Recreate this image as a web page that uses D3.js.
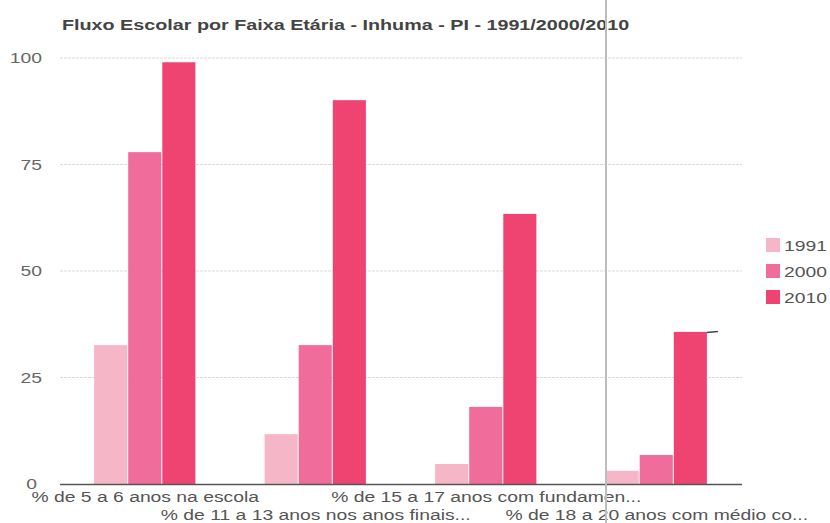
<!DOCTYPE html>
<html>
<head>
<meta charset="utf-8">
<script src="https://cdn.jsdelivr.net/npm/d3@7.9.0/dist/d3.min.js"></script>
<style>
  html, body { margin: 0; padding: 0; background: #fff; }
  svg { display: block; }
  text { font-family: "Liberation Sans", Arial, sans-serif; }
</style>
</head>
<body>
<svg id="chart" width="830" height="523"></svg>
<script>
// data
const categories = [
  '% de 5 a 6 anos na escola',
  '% de 11 a 13 anos nos anos finais...',
  '% de 15 a 17 anos com fundamen...',
  '% de 18 a 20 anos com médio co...'
];
const years = ['1991', '2000', '2010'];
const values1991 = [32.6, 11.7, 4.7, 3.1];
const values2000 = [77.9, 32.6, 18.1, 6.8];
const values2010 = [99.0, 90.1, 63.4, 35.7];
const yTicks = [0, 25, 50, 75, 100];
const colors = ['#f5b6c8', '#f06c9b', '#ef4472'];

const title = 'Fluxo Escolar por Faixa Etária - Inhuma - PI - 1991/2000/2010';

const series = [values1991, values2000, values2010];
const rows = categories.map((c, i) => ({ cat: c, vals: series.map(s => s[i]) }));

const svg = d3.select('#chart');
const plotLeft = 60, plotRight = 742, plotTop = 58, plotBottom = 484;
const sx = 1.38; // the picture's text is horizontally wide

const x0 = d3.scaleBand().domain(categories).range([plotLeft, plotRight])
  .paddingInner(0.4).paddingOuter(0.2);
const x1 = d3.scaleBand().domain(years).range([0, x0.bandwidth()]);
const y = d3.scaleLinear().domain([0, 100]).range([plotBottom, plotTop]);

// place a text at (x, y) and stretch it sideways
function place(sel, fx, fy, k = sx) {
  sel.attr('transform', (d, i) => `translate(${fx(d, i)},${fy(d, i)}) scale(${k},1)`);
}

// gridlines
svg.append('g').selectAll('line')
  .data(yTicks.filter(d => d > 0))
  .join('line')
  .attr('x1', plotLeft).attr('x2', plotRight)
  .attr('y1', d => y(d)).attr('y2', d => y(d))
  .attr('stroke', '#d9d9d9').attr('stroke-width', 1)
  .attr('stroke-dasharray', '3,1');

// y labels
svg.append('g').selectAll('text')
  .data(yTicks)
  .join('text')
  .call(place, d => d === 0 ? 37 : 42, d => y(d) + 5)
  .attr('text-anchor', 'end')
  .attr('font-size', 14)
  .attr('fill', '#666')
  .text(d => d);

// bars
const g = svg.append('g').selectAll('g')
  .data(rows)
  .join('g')
  .attr('transform', d => `translate(${x0(d.cat)},0)`);

g.selectAll('rect')
  .data(d => d.vals.map((v, i) => ({ year: years[i], v, i })))
  .join('rect')
  .attr('x', d => x1(d.year))
  .attr('width', x1.bandwidth() - 1)
  .attr('y', d => y(d.v))
  .attr('height', d => y(0) - y(d.v))
  .attr('fill', d => colors[d.i]);

// baseline
svg.append('line')
  .attr('x1', plotLeft).attr('x2', plotRight)
  .attr('y1', plotBottom + 0.5).attr('y2', plotBottom + 0.5)
  .attr('stroke', '#555').attr('stroke-width', 1.5);

// small dark mark next to the top of the last bar
svg.append('line')
  .attr('x1', x0(categories[3]) + x0.bandwidth() - 1).attr('x2', x0(categories[3]) + x0.bandwidth() + 10)
  .attr('y1', y(values2010[3]) + 0.5).attr('y2', y(values2010[3]) - 0.5)
  .attr('stroke', '#444').attr('stroke-width', 1.5);

// x labels, staggered in two rows
svg.append('g').selectAll('text')
  .data(categories)
  .join('text')
  .call(place, d => x0(d) + x0.bandwidth() / 2, (d, i) => i % 2 === 0 ? 502 : 520)
  .attr('text-anchor', 'middle')
  .attr('font-size', 14)
  .attr('fill', '#555')
  .text(d => d);

// title
svg.append('text')
  .datum(title)
  .call(place, () => 62, () => 30, 1.41)
  .attr('font-size', 14)
  .attr('font-weight', 'bold')
  .attr('fill', '#444')
  .text(d => d);

// legend
const legend = svg.append('g').selectAll('g')
  .data(years)
  .join('g')
  .attr('transform', (d, i) => `translate(766,${238 + i * 26})`);
legend.append('rect')
  .attr('width', 14).attr('height', 14)
  .attr('fill', (d, i) => colors[i]);
legend.append('text')
  .call(place, () => 18, () => 13)
  .attr('font-size', 14)
  .attr('fill', '#555')
  .text(d => d);

// vertical grey line seen across the screenshot
svg.append('line')
  .attr('x1', 606).attr('x2', 606)
  .attr('y1', 0).attr('y2', 523)
  .attr('stroke', '#bdbdbd').attr('stroke-width', 2);
</script>
</body>
</html>
